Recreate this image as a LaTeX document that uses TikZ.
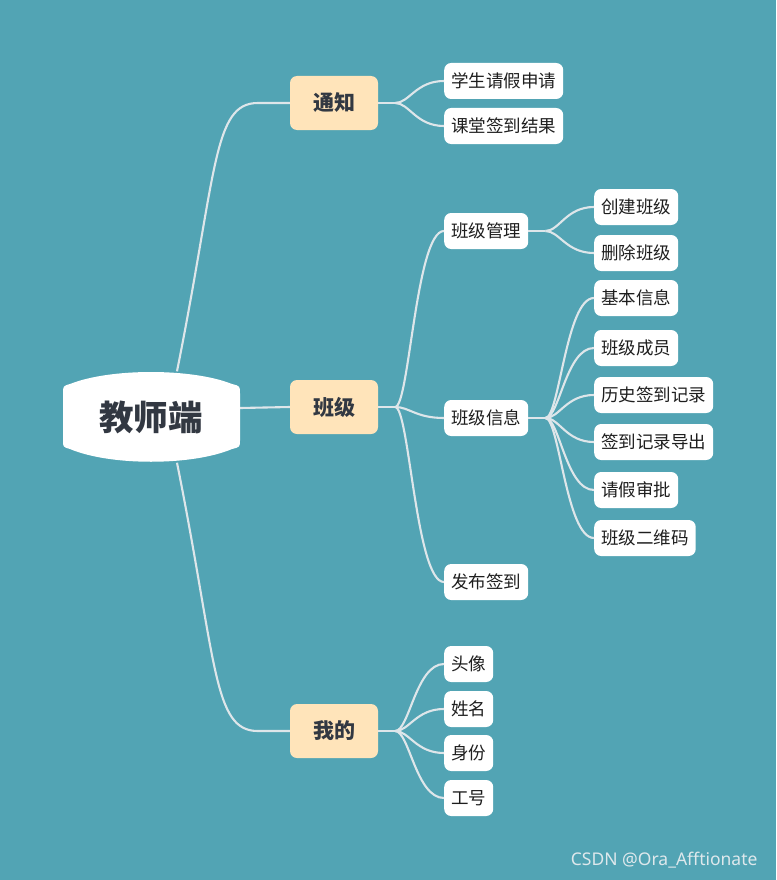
\documentclass[tikz,border=0pt]{standalone}
\usepackage{fontspec}
\newfontfamily\cjk{Noto Sans CJK SC}
\newfontfamily\wmfont{Noto Sans}
\definecolor{bg}{RGB}{82,164,180}
\definecolor{lvlfill}{RGB}{255,228,186}
\definecolor{linec}{RGB}{222,230,234}
\definecolor{darktext}{RGB}{50,56,66}
\definecolor{leaftext}{RGB}{30,30,30}
\definecolor{wmc}{RGB}{222,232,236}
\begin{document}
\begin{tikzpicture}[x=1pt,y=-1pt,
  conn/.style={draw=linec,line width=2.1pt},
  lvlone/.style={fill=lvlfill,rounded corners=7pt,minimum width=88pt,minimum height=54pt,inner sep=0pt,
    font=\cjk\bfseries\fontsize{21}{21}\selectfont,text=darktext},
  leaf/.style={fill=white,rounded corners=7pt,minimum height=36pt,inner xsep=7pt,inner ysep=0pt,anchor=west,
    font=\cjk\fontsize{17.5}{17.5}\selectfont,text=leaftext},
  rootnode/.style={minimum width=178pt,minimum height=91pt,inner sep=0pt,
    font=\cjk\bfseries\fontsize{34.5}{34.5}\selectfont,text=darktext}]
\fill[bg] (0,0) rectangle (776,880);
\useasboundingbox (0,0) rectangle (776,880);

% nodes
\node[rootnode] (root) at (151,417) {};
\node[lvlone] (n1) at (334,103) {通知};
\node[lvlone] (n2) at (334,407) {班级};
\node[lvlone] (n3) at (334,731) {我的};

\node[leaf] (a1) at (444,81) {学生请假申请};
\node[leaf] (a2) at (444,126) {课堂签到结果};

\node[leaf] (b1) at (444,231) {班级管理};
\node[leaf] (b2) at (444,418) {班级信息};
\node[leaf] (b3) at (444,582) {发布签到};

\node[leaf] (c1) at (444,664) {头像};
\node[leaf] (c2) at (444,709) {姓名};
\node[leaf] (c3) at (444,753) {身份};
\node[leaf] (c4) at (444,798) {工号};

\node[leaf] (d1) at (594,207) {创建班级};
\node[leaf] (d2) at (594,253) {删除班级};

\node[leaf] (e1) at (594,298) {基本信息};
\node[leaf] (e2) at (594,348) {班级成员};
\node[leaf] (e3) at (594,395) {历史签到记录};
\node[leaf] (e4) at (594,442) {签到记录导出};
\node[leaf] (e5) at (594,490) {请假审批};
\node[leaf] (e6) at (594,538) {班级二维码};

% coordinates
\coordinate (rt) at ([xshift=26pt]root.north);
\coordinate (rb) at ([xshift=26pt]root.south);
\coordinate (rm) at ([yshift=9pt]root.east);
\coordinate (r1) at ([xshift=-32pt]n1.west);
\coordinate (r3) at ([xshift=-32pt]n3.west);
\coordinate (f1) at ([xshift=17pt]n1.east);
\coordinate (f2) at ([xshift=17pt]n2.east);
\coordinate (f3) at ([xshift=17pt]n3.east);
\coordinate (g1) at ([xshift=17pt]b1.east);
\coordinate (g2) at ([xshift=17pt]b2.east);

% connectors
\draw[conn] (rt) .. controls +(40,-200) and +(-45,0) .. (r1) -- (n1.west);
\draw[conn] (rb) .. controls +(40,200) and +(-45,0) .. (r3) -- (n3.west);
\draw[conn] (rm) .. controls +(25,0) and +(-25,0) .. (n2.west);

\draw[conn] (n1.east) -- (f1);
\draw[conn] (n2.east) -- (f2);
\draw[conn] (n3.east) -- (f3);
\draw[conn] (b1.east) -- (g1);
\draw[conn] (b2.east) -- (g2);

\foreach \c in {a1,a2} \draw[conn] (f1) .. controls +(14,0) and +(-28,0) .. (\c.west);
\foreach \c in {b1,b2,b3} \draw[conn] (f2) .. controls +(14,0) and +(-28,0) .. (\c.west);
\foreach \c in {c1,c2,c3,c4} \draw[conn] (f3) .. controls +(14,0) and +(-28,0) .. (\c.west);
\foreach \c in {d1,d2} \draw[conn] (g1) .. controls +(14,0) and +(-28,0) .. (\c.west);
\foreach \c in {e1,e2,e3,e4,e5,e6} \draw[conn] (g2) .. controls +(14,0) and +(-28,0) .. (\c.west);

% root shape
\fill[white] (70,384) .. controls (110,368) and (192,368) .. (232,384)
  .. controls (240,386) .. (240,394) -- (240,440)
  .. controls (240,447) .. (232,449)
  .. controls (192,466) and (110,466) .. (70,449)
  .. controls (63,447) .. (63,440) -- (63,394)
  .. controls (63,386) .. (70,384) -- cycle;
\node[rootnode] at (root.center) {教师端};

\node[font=\wmfont\fontsize{17.5}{17.5}\selectfont,text=wmc,anchor=east] (wm) at (761,860) {CSDN @Ora\_Afftionate};
\end{tikzpicture}
\end{document}
